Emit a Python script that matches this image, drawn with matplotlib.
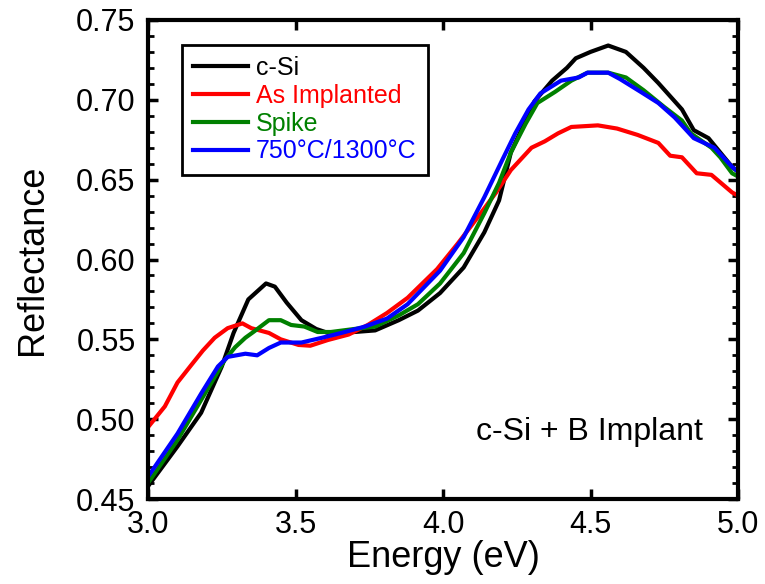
"""Reflectance spectra of c-Si with B implant, before and after anneals."""
import matplotlib
matplotlib.use("Agg")
import matplotlib.pyplot as plt
from matplotlib.ticker import MultipleLocator

plt.rcParams["font.family"] = ["Liberation Sans", "DejaVu Sans"]

# values
e_csi = [3.0, 3.10, 3.18, 3.25, 3.29, 3.34, 3.40, 3.43, 3.47, 3.52, 3.57, 3.61, 3.70, 3.77,
         3.85, 3.915, 3.99, 4.07, 4.14, 4.19, 4.23, 4.28, 4.31, 4.37, 4.42, 4.45, 4.50, 4.56,
         4.62, 4.68, 4.73, 4.81, 4.85, 4.90, 4.94, 4.98, 5.0]
r_csi = [0.458, 0.483, 0.504, 0.533, 0.554, 0.575, 0.585, 0.583, 0.573, 0.562, 0.5565, 0.554,
         0.5546, 0.5556, 0.562, 0.568, 0.579, 0.595, 0.617, 0.637, 0.667, 0.687, 0.699, 0.712,
         0.720, 0.726, 0.730, 0.734, 0.730, 0.720, 0.7105, 0.694, 0.681, 0.676, 0.667, 0.658, 0.655]

e_asimp = [3.0, 3.057, 3.10, 3.147, 3.186, 3.226, 3.27, 3.32, 3.35, 3.41, 3.45, 3.51, 3.55,
           3.61, 3.68, 3.745, 3.81, 3.88, 3.98, 4.05, 4.12, 4.18, 4.23, 4.30, 4.345, 4.39,
           4.435, 4.525, 4.59, 4.66, 4.73, 4.77, 4.81, 4.86, 4.91, 4.98, 5.0]
r_asimp = [0.495, 0.508, 0.523, 0.534, 0.543, 0.551, 0.557, 0.560, 0.557, 0.554, 0.550, 0.5465,
           0.546, 0.5496, 0.553, 0.559, 0.5665, 0.576, 0.594, 0.610, 0.627, 0.642, 0.656, 0.670,
           0.674, 0.679, 0.683, 0.684, 0.682, 0.678, 0.673, 0.665, 0.664, 0.654, 0.653, 0.642, 0.640]

e_spike = [3.0, 3.10, 3.18, 3.26, 3.295, 3.33, 3.36, 3.41, 3.45, 3.485, 3.53, 3.575, 3.62,
           3.70, 3.77, 3.85, 3.915, 3.99, 4.07, 4.14, 4.19, 4.23, 4.28, 4.32, 4.38, 4.435,
           4.49, 4.56, 4.62, 4.68, 4.75, 4.81, 4.84, 4.91, 4.94, 4.98, 5.0]
r_spike = [0.460, 0.487, 0.512, 0.537, 0.545, 0.551, 0.555, 0.562, 0.562, 0.559, 0.558, 0.5546,
           0.5546, 0.5565, 0.558, 0.565, 0.572, 0.585, 0.604, 0.629, 0.648, 0.667, 0.685, 0.698,
           0.705, 0.712, 0.717, 0.717, 0.714, 0.706, 0.6955, 0.687, 0.679, 0.670, 0.664, 0.654, 0.652]

e_anneal = [3.0, 3.10, 3.18, 3.237, 3.27, 3.33, 3.37, 3.41, 3.45, 3.52, 3.59, 3.655, 3.735,
            3.81, 3.88, 3.99, 4.07, 4.14, 4.20, 4.245, 4.29, 4.33, 4.40, 4.46, 4.49, 4.56,
            4.60, 4.67, 4.73, 4.785, 4.85, 4.92, 4.98, 5.0]
r_anneal = [0.464, 0.491, 0.516, 0.533, 0.539, 0.541, 0.540, 0.5446, 0.548, 0.548, 0.551, 0.554,
            0.558, 0.563, 0.572, 0.593, 0.614, 0.639, 0.662, 0.679, 0.694, 0.704, 0.712, 0.714,
            0.717, 0.717, 0.713, 0.705, 0.698, 0.689, 0.676, 0.670, 0.658, 0.655]

labels = ["c-Si", "As Implanted", "Spike", "750°C/1300°C"]
colors = ["black", "#ff0000", "#008000", "#0000ff"]

fig = plt.figure(figsize=(7.65, 5.84), dpi=100)
ax = fig.add_axes([0.1935, 0.1455, 0.7712, 0.8203])

series = [(e_csi, r_csi), (e_asimp, r_asimp), (e_spike, r_spike), (e_anneal, r_anneal)]
for (e, r), lab, c in zip(series, labels, colors):
    ax.plot(e, r, color=c, lw=3, label=lab)

ax.set_xlim(3.0, 5.0)
ax.set_ylim(0.45, 0.75)
ax.xaxis.set_major_locator(MultipleLocator(0.5))
ax.yaxis.set_major_locator(MultipleLocator(0.05))
ax.yaxis.set_minor_locator(MultipleLocator(0.01))
ax.xaxis.set_major_formatter(plt.FormatStrFormatter("%.1f"))
ax.yaxis.set_major_formatter(plt.FormatStrFormatter("%.2f"))

for s in ax.spines.values():
    s.set_linewidth(3)
ax.tick_params(which="major", direction="in", length=7, width=2.5, labelsize=22,
               top=True, right=True)
ax.tick_params(axis="y", which="major", pad=9)
ax.tick_params(axis="x", which="major", pad=8)
ax.tick_params(which="minor", direction="in", length=4, width=2, left=True, right=True)
ax.tick_params(axis="x", which="minor", bottom=False, top=False)

ax.set_xlabel("Energy (eV)", fontsize=26, labelpad=0)
ax.set_ylabel("Reflectance", fontsize=26, labelpad=19)

ax.text(4.88, 0.487, "c-Si + B Implant", fontsize=23, ha="right", va="baseline")

leg = ax.legend(loc="upper left", bbox_to_anchor=(0.058, 0.948), borderaxespad=0,
                fontsize=18, handlelength=2.2, handletextpad=0.3, labelspacing=0.15,
                borderpad=0.45, fancybox=False, framealpha=1, edgecolor="black")
leg.get_frame().set_linewidth(2)
for txt, c in zip(leg.get_texts(), colors):
    txt.set_color(c)

fig.savefig("out.png", dpi=100)
